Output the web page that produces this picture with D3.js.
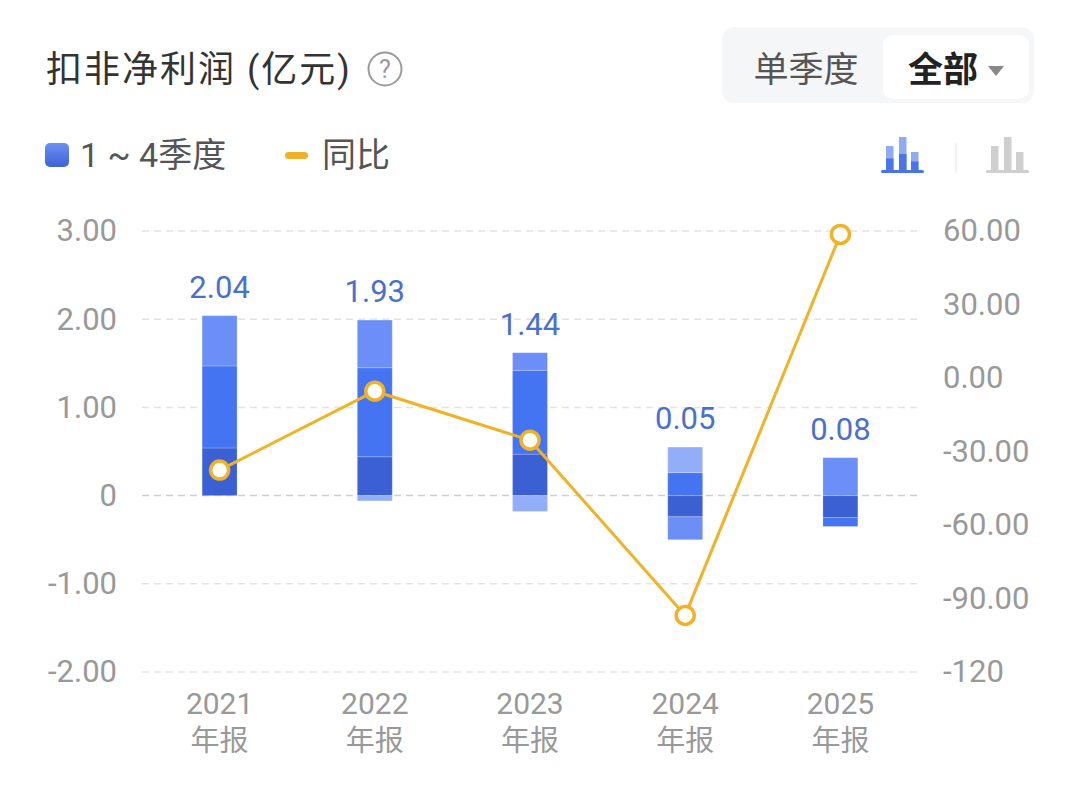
<!DOCTYPE html>
<html>
<head>
<meta charset="utf-8">
<script src="https://cdn.jsdelivr.net/npm/d3@7"></script>
<style>
  body { margin: 0; background: #fff; }
  svg { display: block; font-family: Roboto, "Noto Sans CJK SC", sans-serif; }
</style>
</head>
<body>
<svg id="chart" width="1080" height="788"></svg>
<script>
// data
const years = ["2021", "2022", "2023", "2024", "2025"];
const q1 = [0.54, 0.44, 0.47, -0.24, -0.25];
const q2 = [0.93, 1.01, 0.95, 0.26, -0.10];
const q3 = [0.57, 0.54, 0.20, -0.26, 0.43];
const q4 = [0, -0.06, -0.18, 0.29, 0];
const totals = [2.04, 1.93, 1.44, 0.05, 0.08];
const yoy = [-37.6, -5.39, -25.39, -96.9, 58.6];

const leftTicks = [-2, -1, 0, 1, 2, 3];
const leftTickLabels = ["-2.00", "-1.00", "0", "1.00", "2.00", "3.00"];
const rightTicks = [-120, -90, -60, -30, 0, 30, 60];
const rightTickLabels = ["-120", "-90.00", "-60.00", "-30.00", "0.00", "30.00", "60.00"];

const quarterColors = ["#3a60d4", "#4574f3", "#6b8ff7", "#93aef9"];
const lineColor = "#f0b226";
const numFont = "Roboto, sans-serif";

const svg = d3.select("#chart");
const plot = { left: 142, right: 918, top: 231, bottom: 672 };

const x = d3.scaleBand().domain(years).range([plot.left, plot.right]).padding(0);
const barW = x.bandwidth() * 0.225;
const y = d3.scaleLinear().domain([-2, 3]).range([plot.bottom, plot.top]);
const y2 = d3.scaleLinear().domain([-120, 60]).range([plot.bottom, plot.top]);

// ---- header ----
svg.append("text")
  .attr("x", 46).attr("y", 82)
  .attr("font-size", 36).attr("fill", "#333")
  .attr("letter-spacing", 2)
  .text("扣非净利润 (亿元)");

svg.append("circle")
  .attr("cx", 385).attr("cy", 69).attr("r", 16.5)
  .attr("fill", "none").attr("stroke", "#9a9a9a").attr("stroke-width", 2);
svg.append("text")
  .attr("x", 385).attr("y", 78).attr("text-anchor", "middle")
  .attr("font-size", 25).attr("fill", "#9a9a9a")
  .text("?");

svg.append("rect")
  .attr("x", 722).attr("y", 27).attr("width", 312).attr("height", 76).attr("rx", 12)
  .attr("fill", "#f5f6f8");
svg.append("rect")
  .attr("x", 883).attr("y", 35).attr("width", 146).attr("height", 64).attr("rx", 10)
  .attr("fill", "#fff");
svg.append("text")
  .attr("x", 806).attr("y", 82).attr("text-anchor", "middle")
  .attr("font-size", 35).attr("fill", "#555")
  .text("单季度");
svg.append("text")
  .attr("x", 943).attr("y", 82).attr("text-anchor", "middle")
  .attr("font-size", 35).attr("font-weight", "bold").attr("fill", "#222")
  .text("全部");
svg.append("path")
  .attr("d", "M988,66 L1004,66 L996,76 Z")
  .attr("fill", "#888");

// ---- legend ----
const grad = svg.append("defs").append("linearGradient")
  .attr("id", "legend-grad").attr("x1", 0).attr("y1", 0).attr("x2", 0).attr("y2", 1);
grad.append("stop").attr("offset", 0).attr("stop-color", "#6d90f5");
grad.append("stop").attr("offset", 1).attr("stop-color", "#3d62d6");

svg.append("rect")
  .attr("x", 45).attr("y", 143).attr("width", 24).attr("height", 24).attr("rx", 5)
  .attr("fill", "url(#legend-grad)");
svg.append("text")
  .attr("x", 80).attr("y", 167)
  .attr("font-size", 34).attr("fill", "#555")
  .text("1 ~ 4季度");
svg.append("rect")
  .attr("x", 285).attr("y", 152).attr("width", 23).attr("height", 7).attr("rx", 3.5)
  .attr("fill", lineColor);
svg.append("text")
  .attr("x", 322).attr("y", 167)
  .attr("font-size", 34).attr("fill", "#555")
  .text("同比");

// chart type icons (decoration)
function barIcon(x0, light, dark) {
  const bars = [[5, 146], [18, 137], [30, 152]];
  bars.forEach(b => {
    svg.append("rect").attr("x", x0 + b[0]).attr("y", b[1])
      .attr("width", 7.5).attr("height", 171 - b[1]).attr("fill", light);
    if (dark) {
      svg.append("rect").attr("x", x0 + b[0]).attr("y", b[1] + (171 - b[1]) * 0.5)
        .attr("width", 7.5).attr("height", (171 - b[1]) * 0.5).attr("fill", dark);
    }
  });
  svg.append("rect").attr("x", x0).attr("y", 170).attr("width", 43).attr("height", 3)
    .attr("rx", 1.5).attr("fill", dark || light);
}
barIcon(881, "#8fabf5", "#4a74e8");
svg.append("line").attr("x1", 956).attr("x2", 956).attr("y1", 143).attr("y2", 173)
  .attr("stroke", "#eee").attr("stroke-width", 1.5);
barIcon(986, "#cfcfcf", null);

// ---- grid + axes ----
const grid = svg.append("g");
grid.selectAll("line")
  .data(leftTicks)
  .enter().append("line")
  .attr("x1", plot.left).attr("x2", plot.right)
  .attr("y1", d => y(d)).attr("y2", d => y(d))
  .attr("stroke", d => d === 0 ? "#cfcfcf" : "#e3e3e3")
  .attr("stroke-width", 1.5)
  .attr("stroke-dasharray", "7,5");

const leftAxis = d3.axisLeft(y)
  .tickValues(leftTicks)
  .tickSize(0)
  .tickPadding(0)
  .tickFormat((d, i) => leftTickLabels[i]);
svg.append("g")
  .attr("transform", "translate(117,0)")
  .call(leftAxis)
  .call(g => g.select(".domain").remove())
  .call(g => g.selectAll("text")
    .attr("font-size", 31).attr("fill", "#999")
    .attr("font-family", numFont));

const rightAxis = d3.axisRight(y2)
  .tickValues(rightTicks)
  .tickSize(0)
  .tickPadding(0)
  .tickFormat((d, i) => rightTickLabels[i]);
svg.append("g")
  .attr("transform", "translate(943,0)")
  .call(rightAxis)
  .call(g => g.select(".domain").remove())
  .call(g => g.selectAll("text")
    .attr("font-size", 31).attr("fill", "#999")
    .attr("font-family", numFont));

// x labels
const xLab = svg.append("g").selectAll("g")
  .data(years)
  .enter().append("g")
  .attr("transform", d => "translate(" + (x(d) + x.bandwidth() / 2) + ",0)");
xLab.append("text")
  .attr("y", 714).attr("text-anchor", "middle")
  .attr("font-size", 30).attr("fill", "#999")
  .attr("font-family", numFont)
  .text(d => d);
xLab.append("text")
  .attr("y", 751).attr("text-anchor", "middle")
  .attr("font-size", 29).attr("fill", "#999")
  .text("年报");

// ---- stacked bars ----
const rows = years.map((yr, i) => ({ year: yr, q1: q1[i], q2: q2[i], q3: q3[i], q4: q4[i] }));
const stack = d3.stack()
  .keys(["q1", "q2", "q3", "q4"])
  .offset(d3.stackOffsetDiverging);
const series = stack(rows);

svg.append("g").selectAll("g")
  .data(series)
  .enter().append("g")
  .attr("fill", (d, i) => quarterColors[i])
  .selectAll("rect")
  .data(d => d)
  .enter().append("rect")
  .attr("x", d => x(d.data.year) + (x.bandwidth() - barW) / 2)
  .attr("y", d => y(d[1]))
  .attr("width", barW)
  .attr("height", d => Math.max(0, y(d[0]) - y(d[1])))
  .attr("stroke", "rgba(255,255,255,0.2)")
  .attr("stroke-width", 1);

// total labels above the positive stack
const posTop = rows.map(r => d3.sum(["q1", "q2", "q3", "q4"], k => Math.max(0, r[k])));
svg.append("g").selectAll("text")
  .data(years)
  .enter().append("text")
  .attr("x", d => x(d) + x.bandwidth() / 2)
  .attr("y", (d, i) => y(posTop[i]) - 18)
  .attr("text-anchor", "middle")
  .attr("font-size", 31).attr("fill", "#4a70cf")
  .attr("font-family", numFont)
  .text((d, i) => totals[i].toFixed(2));

// ---- yoy line ----
const line = d3.line()
  .x((d, i) => x(years[i]) + x.bandwidth() / 2)
  .y(d => y2(d));
svg.append("path")
  .datum(yoy)
  .attr("d", line)
  .attr("fill", "none")
  .attr("stroke", lineColor)
  .attr("stroke-width", 3);
svg.append("g").selectAll("circle")
  .data(yoy)
  .enter().append("circle")
  .attr("cx", (d, i) => x(years[i]) + x.bandwidth() / 2)
  .attr("cy", d => y2(d))
  .attr("r", 9)
  .attr("fill", "#fff")
  .attr("stroke", lineColor)
  .attr("stroke-width", 3.5);
</script>
</body>
</html>
